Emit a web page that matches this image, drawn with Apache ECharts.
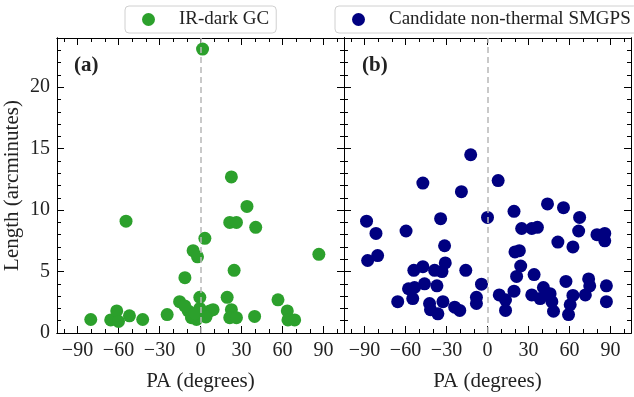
<!DOCTYPE html>
<html><head><meta charset="utf-8">
<script src="https://cdn.jsdelivr.net/npm/echarts@6/dist/echarts.min.js"></script>
<style>html,body{margin:0;padding:0;background:#fff}#c{width:634px;height:397px}</style>
</head><body><div id="c"></div>
<script>
// ---- data ----
const irDarkName = 'IR-dark GC';
const irDarkPA = [1.5, 22.6, 34, -54.5, 21.4, 26.3, 40.4, 3.2, -5.4, -2.2, 86.6, 24.6, -11.4, -0.5, 19.5, -15.3, 56.7, -80.3, -65.7, -61.3, -60, -52, -42.3, -24.4, -9, -6.6, -2.9, 1.9, 6.8, 9.2, -0.5, -11.5, 22.6, 21.4, 26.3, 39.6, 63.5, 64, 68.9, -4, 4];
const irDarkLength = [23.1, 12.7, 10.3, 9.1, 9.0, 9.0, 8.6, 7.7, 6.7, 6.2, 6.4, 5.1, 4.5, 2.9, 2.9, 2.55, 2.7, 1.1, 1.06, 1.8, 0.94, 1.4, 1.1, 1.5, 1.8, 1.25, 1.1, 1.5, 1.8, 1.9, 2.0, 2.2, 1.9, 1.25, 1.25, 1.35, 1.8, 1.06, 1.06, 1.6, 1.3];

const smgpsName = 'Candidate non-thermal SMGPS';
const smgpsPA = [-12.3, 7.8, -47.3, -19.1, 43.9, 55.6, 19.4, 0, -34.3, -88.5, 67.4, -81.6, -59.6, 25, 32.4, 36.5, 66.7, 80.1, 85.8, 85.8, 51.5, 62.5, -31.4, -80.4, -87.7, 20.1, 23.3, -30.9, -47.3, -53.9, -38.7, -33.3, -15.9, 24.3, 21.3, 34.1, -46.1, -37, -4.4, 57.4, 74, 74.8, 87, -57.8, -53.4, -54.7, -65.7, -42.4, -32.6, -41.7, -36.3, -24, -20.3, -8.1, -8.1, 8.6, 13.2, 13.2, 19.4, 32.4, 40.9, 38.5, 45.8, 47.1, 48.3, 62.5, 60.5, 59.3, 71.6, 87];
const smgpsLength = [14.5, 12.4, 12.2, 11.5, 10.5, 10.2, 9.9, 9.4, 9.3, 9.1, 9.4, 8.1, 8.3, 8.5, 8.5, 8.6, 8.3, 8.0, 8.1, 7.5, 7.4, 7.0, 7.1, 6.3, 5.9, 6.6, 6.7, 5.7, 5.4, 5.1, 5.1, 5.0, 5.1, 5.45, 4.6, 4.75, 4.0, 3.84, 3.97, 4.2, 4.4, 3.84, 3.84, 3.6, 3.7, 2.8, 2.55, 2.4, 2.55, 1.9, 1.56, 2.1, 1.84, 2.9, 2.4, 3.1, 2.7, 1.84, 3.4, 3.1, 3.7, 2.8, 3.2, 2.55, 1.77, 3.06, 2.3, 1.5, 3.1, 2.55];

const xMajorTicks = [-90, -60, -30, 0, 30, 60, 90];
const xMinorTicks = [-100, -80, -70, -50, -40, -20, -10, 10, 20, 40, 50, 70, 80, 100];
const yMajorTicks = [0, 5, 10, 15, 20];
const yMinorTicks = [1, 2, 3, 4, 6, 7, 8, 9, 11, 12, 13, 14, 16, 17, 18, 19, 21, 22, 23];
const panelLabels = ['(a)', '(b)'];
const xName = 'PA (degrees)';
const yName = 'Length (arcminutes)';

// ---- styling ----
const FONT = 'Liberation Serif';
const TXT = '#222';
const fmt = v => (v < 0 ? '\u2212' + (-v) : String(v));

function xAxesFor(g) {
  const base = {type: 'value', gridIndex: g, min: -105, max: 105, splitLine: {show: false},
    axisLine: {onZero: false, lineStyle: {color: '#000', width: 1}}};
  return [
    Object.assign({}, base, {position: 'bottom',
      axisTick: {inside: true, length: 7, customValues: xMajorTicks, lineStyle: {color: '#000'}},
      axisLabel: {show: true, customValues: xMajorTicks, formatter: fmt, margin: 8, fontFamily: FONT, fontSize: 20, color: TXT},
      name: xName, nameLocation: 'middle', nameGap: 38, nameTextStyle: {fontFamily: FONT, fontSize: 21, color: TXT}}),
    Object.assign({}, base, {position: 'top',
      axisTick: {inside: true, length: 7, customValues: xMajorTicks, lineStyle: {color: '#000'}},
      axisLabel: {show: false}}),
    Object.assign({}, base, {position: 'bottom',
      axisTick: {inside: true, length: 4, customValues: xMinorTicks, lineStyle: {color: '#000'}},
      axisLabel: {show: false}}),
    Object.assign({}, base, {position: 'top',
      axisTick: {inside: true, length: 4, customValues: xMinorTicks, lineStyle: {color: '#000'}},
      axisLabel: {show: false}})
  ];
}
function yAxesFor(g) {
  const base = {type: 'value', gridIndex: g, min: 0, max: 24, splitLine: {show: false},
    axisLine: {show: true, onZero: false, lineStyle: {color: '#000', width: 1}}};
  const left = Object.assign({}, base, {position: 'left',
    axisTick: {show: true, inside: true, length: 7, customValues: yMajorTicks, lineStyle: {color: '#000'}},
    axisLabel: {show: g === 0, customValues: yMajorTicks, margin: 7, fontFamily: FONT, fontSize: 20, color: TXT}});
  if (g === 0) Object.assign(left, {name: yName, nameLocation: 'middle', nameGap: 34,
    nameTextStyle: {fontFamily: FONT, fontSize: 21, color: TXT}});
  return [
    left,
    Object.assign({}, base, {position: 'right',
      axisTick: {show: true, inside: true, length: 7, customValues: yMajorTicks, lineStyle: {color: '#000'}},
      axisLabel: {show: false}}),
    Object.assign({}, base, {position: 'left',
      axisTick: {show: true, inside: true, length: 4, customValues: yMinorTicks, lineStyle: {color: '#000'}},
      axisLabel: {show: false}}),
    Object.assign({}, base, {position: 'right',
      axisTick: {show: true, inside: true, length: 4, customValues: yMinorTicks, lineStyle: {color: '#000'}},
      axisLabel: {show: false}})
  ];
}

const zeroLine = {
  silent: true, symbol: 'none', label: {show: false},
  lineStyle: {color: '#b8b8b8', type: [6, 4], width: 1.5},
  data: [{xAxis: 0}]
};
const legendBase = {
  top: 6, orient: 'horizontal', icon: 'circle', itemWidth: 13, itemHeight: 13,
  borderColor: '#d0d0d0', borderWidth: 1, borderRadius: 4, backgroundColor: '#fff',
  padding: [4, 7, 4, 17],
  textStyle: {fontFamily: FONT, fontSize: 19, color: TXT, padding: [0, 0, 0, 19]}
};

const chart = echarts.init(document.getElementById('c'), null, {renderer: 'canvas'});
chart.setOption({
  animation: false,
  backgroundColor: '#fff',
  title: [
    {text: panelLabels[0], left: 69, top: 50, textStyle: {fontFamily: FONT, fontWeight: 'bold', fontSize: 21, color: TXT}},
    {text: panelLabels[1], left: 357, top: 50, textStyle: {fontFamily: FONT, fontWeight: 'bold', fontSize: 21, color: TXT}}
  ],
  legend: [
    Object.assign({}, legendBase, {left: 125, data: [irDarkName]}),
    Object.assign({}, legendBase, {left: 335, data: [smgpsName]})
  ],
  grid: [
    {left: 57, top: 38, width: 287, height: 308},
    {left: 344, top: 38, width: 287, height: 308}
  ],
  xAxis: xAxesFor(0).concat(xAxesFor(1)),
  yAxis: yAxesFor(0).concat(yAxesFor(1)),
  series: [
    {name: irDarkName, type: 'scatter', xAxisIndex: 0, yAxisIndex: 0, symbolSize: 13,
      itemStyle: {color: '#2ca02c', opacity: 1},
      data: irDarkPA.map((x, i) => [x, irDarkLength[i]]), markLine: zeroLine},
    {name: smgpsName, type: 'scatter', xAxisIndex: 4, yAxisIndex: 4, symbolSize: 13,
      itemStyle: {color: '#000080', opacity: 1},
      data: smgpsPA.map((x, i) => [x, smgpsLength[i]]), markLine: zeroLine}
  ]
});
</script>
</body></html>
